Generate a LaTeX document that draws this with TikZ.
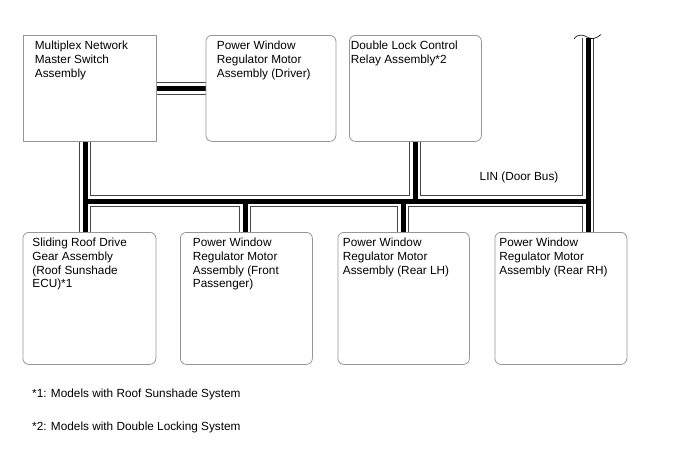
\documentclass[tikz,border=0pt]{standalone}
\usepackage{fontspec}
\setmainfont{Liberation Sans}
\usetikzlibrary{positioning,backgrounds}
\definecolor{boxgray}{RGB}{150,150,150}
\definecolor{wiregray}{RGB}{70,70,70}
\newcommand{\unittext}[3]{\parbox[t][#1][t]{#2}{\raggedright #3}}

\begin{document}
\begin{tikzpicture}[x=1pt,y=-1pt,
    font=\fontsize{11.8}{13.9}\selectfont,
    unit/.style={draw=boxgray,line width=0.8pt,rounded corners=6pt,anchor=north west,inner ysep=5.3pt},
    note/.style={anchor=base west,inner sep=0pt}]
    \useasboundingbox (0,0) rectangle (688,463);
    % upper row
    \node[unit,sharp corners,inner xsep=12pt](master) at (22.5,35){\unittext{95.4pt}{109pt}{Multiplex Network\\Master Switch\\Assembly}};
    \node[unit,inner xsep=11pt](driver) at (205.5,35){\unittext{95.4pt}{108pt}{Power Window\\Regulator Motor\\Assembly (Driver)}};
    \node[unit,inner xsep=1.5pt](dl) at (349,35){\unittext{95.4pt}{129pt}{Double Lock Control\\Relay Assembly*2}};
    % lower row
    \node[unit,inner xsep=9.5pt](roof) at (22.5,232){\unittext{121.4pt}{114pt}{Sliding Roof Drive\\Gear Assembly\\(Roof Sunshade\\ECU)*1}};
    \node[unit,inner xsep=12.5pt](fp) at (180,232){\unittext{121.4pt}{107pt}{Power Window\\Regulator Motor\\Assembly (Front\\Passenger)}};
    \node[unit,inner xsep=5pt](lh) at (337.5,232){\unittext{121.4pt}{121.5pt}{Power Window\\Regulator Motor\\Assembly (Rear LH)}};
    \node[unit,inner xsep=4.5pt](rh) at (494.5,232){\unittext{121.4pt}{123pt}{Power Window\\Regulator Motor\\Assembly (Rear RH)}};
    % bus points
    \coordinate (busL) at (85,201);
    \coordinate (busR) at (588,201);
    \coordinate (busTop) at (588,37.5);
    \coordinate (fpx) at (245,201);
    \coordinate (lhx) at (403,201);
    \coordinate (dlx) at (415,201);
    \begin{scope}[on background layer]
    \foreach \w/\c in {12.5/wiregray,10.5/white,5/black}
        \draw[line width=\w pt,\c]
            (master.east) -- (driver.west)
            (busL |- master.south) -- (busL |- roof.north)
            (busL) -- (busR)
            (busTop) -- (busTop |- rh.north)
            (dlx |- dl.south) -- (dlx)
            (lhx) -- (lhx |- lh.north)
            (fpx) -- (fpx |- fp.north);
    \end{scope}
    \draw[line width=0.6pt] (574,39) .. controls (578,33) and (584,35) .. (588,37.5) .. controls (592,40) and (597,38) .. (601,34.5);
    \node[note](lin) at (479.5,180){LIN (Door Bus)};
    % notes
    \node[note](fn1) at (32,397.5){*1: Models with Roof Sunshade System};
    \node[note](fn2) at (32,430){*2: Models with Double Locking System};
\end{tikzpicture}
\end{document}
